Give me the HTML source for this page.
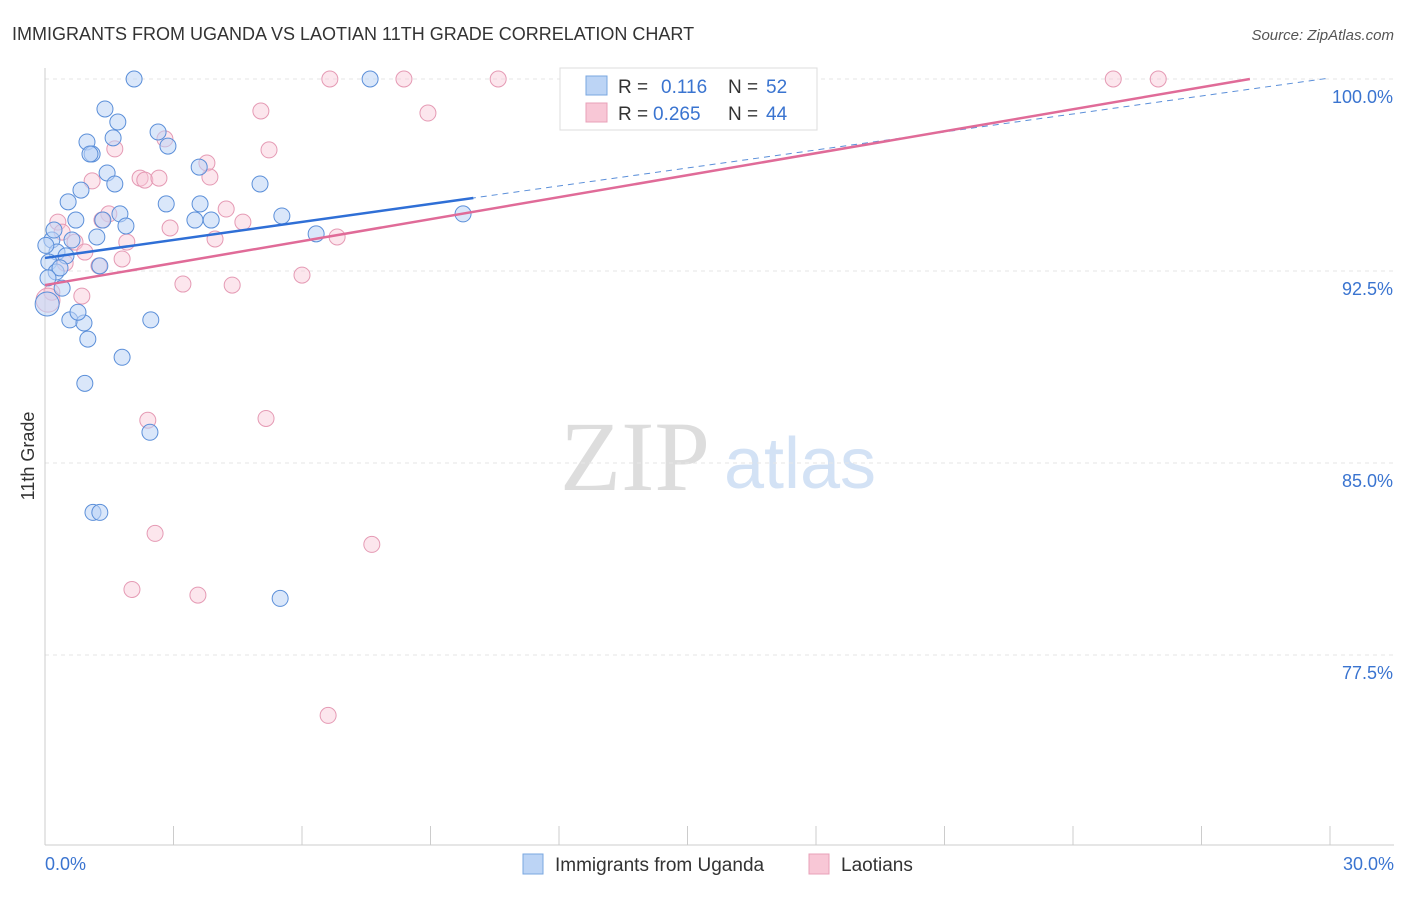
<!DOCTYPE html>
<html><head><meta charset="utf-8">
<style>
body{margin:0;background:#fff;font-family:"Liberation Sans",sans-serif;}
svg text{font-family:"Liberation Sans",sans-serif;}
</style></head>
<body>
<svg id="chart" width="1406" height="892" xmlns="http://www.w3.org/2000/svg">
<text x="12" y="40" font-size="18" fill="#333">IMMIGRANTS FROM UGANDA VS LAOTIAN 11TH GRADE CORRELATION CHART</text>
<text x="1394" y="40" font-size="15" fill="#555" text-anchor="end" font-style="italic">Source: ZipAtlas.com</text>
<g>
<text x="635" y="490" font-size="100" fill="#ddd" text-anchor="middle" style="font-family:'Liberation Serif',serif">ZIP</text>
<text x="800" y="488" font-size="72" fill="#d3e2f5" text-anchor="middle">atlas</text>
</g>
<g id="grid"></g>
<g id="axes"></g>
<g id="marks"></g>
<g>
<rect x="560" y="68" width="257" height="62" fill="#fff" stroke="#ddd"/>
<rect x="586" y="76" width="21" height="19" fill="#bcd4f5" stroke="#7aa7e0"/>
<text x="618" y="93" font-size="19" fill="#333">R =</text>
<text x="661" y="93" font-size="19" fill="#3a74d0">0.116</text>
<text x="728" y="93" font-size="19" fill="#333">N =</text>
<text x="766" y="93" font-size="19" fill="#3a74d0">52</text>
<rect x="586" y="103" width="21" height="19" fill="#f8c7d6" stroke="#e8a0b8"/>
<text x="618" y="120" font-size="19" fill="#333">R =</text>
<text x="653" y="120" font-size="19" fill="#3a74d0">0.265</text>
<text x="728" y="120" font-size="19" fill="#333">N =</text>
<text x="766" y="120" font-size="19" fill="#3a74d0">44</text>
</g>
<g>
<rect x="523" y="854" width="20" height="20" fill="#bcd4f5" stroke="#7aa7e0"/>
<text x="555" y="871" font-size="19" fill="#333">Immigrants from Uganda</text>
<rect x="809" y="854" width="20" height="20" fill="#f8c7d6" stroke="#e8a0b8"/>
<text x="841" y="871" font-size="19" fill="#333">Laotians</text>
</g>
<text transform="translate(34,456) rotate(-90)" font-size="18" fill="#333" text-anchor="middle">11th Grade</text>
</svg>
<script>
const blueX=[2.08,7.59,1.40,1.70,1.59,0.98,1.10,1.05,2.64,2.87,1.45,1.63,0.84,0.54,3.60,5.02,2.83,3.62,1.75,0.72,1.35,1.89,3.50,3.88,5.53,9.76,0.16,1.21,0.63,6.33,0.28,0.49,0.09,1.28,0.26,0.40,0.05,0.58,0.91,0.77,2.47,1.00,1.80,0.93,2.45,1.12,1.28,5.49,0.35,0.21,0.07,0.02];
const blueY=[100,100,98.83,98.32,97.70,97.54,97.07,97.07,97.93,97.38,96.33,95.90,95.66,95.20,96.56,95.90,95.12,95.12,94.73,94.49,94.49,94.26,94.49,94.49,94.65,94.73,93.71,93.83,93.71,93.95,93.24,93.09,92.85,92.70,92.46,91.83,91.21,90.59,90.47,90.89,90.59,89.84,89.13,88.11,86.20,83.07,83.07,79.71,92.62,94.10,92.23,93.5];
const pinkX=[6.65,8.38,10.58,24.94,25.99,5.04,8.94,2.80,1.63,5.23,3.78,3.85,1.10,2.22,2.33,2.66,4.23,4.62,1.49,0.30,1.33,2.92,6.82,3.97,0.70,1.91,0.40,0.93,1.80,0.47,1.26,6.00,3.22,4.37,0.86,0.16,2.40,5.16,2.57,7.63,2.03,3.57,6.61,0.07];
const pinkY=[100,100,100,100,100,98.75,98.67,97.66,97.27,97.23,96.72,96.17,96.02,96.13,96.05,96.13,94.92,94.41,94.73,94.41,94.49,94.18,93.83,93.75,93.63,93.63,94.02,93.24,92.97,92.81,92.70,92.34,91.99,91.95,91.52,91.67,86.67,86.74,82.25,81.82,80.06,79.84,75.14,91.36];
const blueTrend=[93.01,100.04];
const pinkTrend=[91.95,100];
const yTicks=[100,92.5,85,77.5];
const yTickLabels=["100.0%","92.5%","85.0%","77.5%"];
const NS="http://www.w3.org/2000/svg";
const X=v=>45+v/30*1285;
const Y=v=>79+(100-v)*25.6;
function mk(p,t,a){const e=document.createElementNS(NS,t);for(const k in a)e.setAttribute(k,a[k]);p.appendChild(e);return e;}
const grid=document.getElementById('grid'),axes=document.getElementById('axes'),marks=document.getElementById('marks');
yTicks.forEach((t,i)=>{
 const l=mk(grid,'line',{x1:45,x2:1394,y1:Y(t),y2:Y(t),stroke:'#e6e6e6','stroke-dasharray':'4,4'});
 
 
 const tx=mk(axes,'text',{x:1393,y:Y(t)+24,'font-size':18,fill:'#3a74d0','text-anchor':'end'});
 tx.textContent=yTickLabels[i];
 
 
});
let a=mk(axes,'line',{x1:45,x2:45,y1:68,y2:845,stroke:'#ccc'});


a=mk(axes,'line',{x1:45,x2:1394,y1:845,y2:845,stroke:'#ccc'});


for(let i=0;i<=10;i++){const t=mk(axes,'line',{x1:X(i*3),x2:X(i*3),y1:826,y2:845,stroke:'#ccc'});
 
 }
[["0.0%",45,'start'],["30.0%",1394,'end']].forEach(d=>{const t=mk(axes,'text',{x:d[1],y:870,'font-size':18,fill:'#3a74d0','text-anchor':d[2]});t.textContent=d[0];
 
 });
function dots(xs,ys,fill,stroke,op,name){xs.forEach((x,i)=>{const c=mk(marks,'circle',{cx:X(x),cy:Y(ys[i]),r:(x<0.1&&ys[i]<91.5)?12:8,fill:fill,'fill-opacity':op,stroke:stroke,'stroke-width':1});
 
 });}
dots(pinkX,pinkY,'#f8c7d6','#e59ab4',0.45,'laotian-point');
dots(blueX,blueY,'#bcd4f5','#5b8fd9',0.55,'uganda-point');
let ln=mk(marks,'line',{x1:X(0),y1:Y(blueTrend[0]),x2:X(30),y2:Y(blueTrend[1]),stroke:'#5b8fd9','stroke-width':1,'stroke-dasharray':'6,5'});


const bs=(blueTrend[1]-blueTrend[0])/30;
ln=mk(marks,'line',{x1:X(0),y1:Y(blueTrend[0]),x2:X(10),y2:Y(blueTrend[0]+bs*10),stroke:'#2f6fd6','stroke-width':2.5});


ln=mk(marks,'line',{x1:X(0),y1:Y(pinkTrend[0]),x2:X(28.13),y2:Y(pinkTrend[1]),stroke:'#e06b98','stroke-width':2.5});


</script>
</body></html>
